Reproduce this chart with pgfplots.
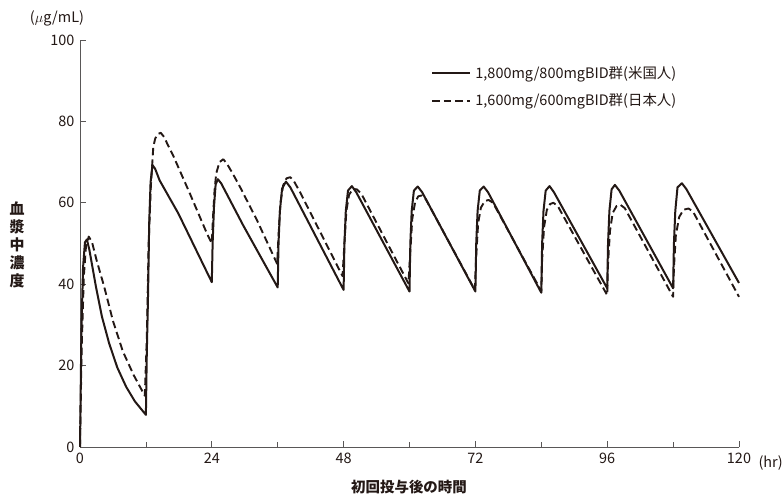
\documentclass[border=0pt]{standalone}
\usepackage{pgfplots}
\pgfplotsset{compat=1.18}
\usepackage{fontspec}
\setmainfont{Noto Sans CJK JP}
\definecolor{ink}{HTML}{231815}
\definecolor{axgray}{HTML}{595757}

\pgfplotstableread{
t c
0 0
0.25 28
0.55 44
0.9 50.3
1.25 51
1.7 48.5
2.9 39.4
4.0 32
5.3 25.5
6.8 19.5
8.4 14.8
10.0 11.2
12.0 7.9
12.15 22
12.4 38
12.6 55
12.85 65
13.2 69.3
13.7 68.3
14.5 65.5
17.9 57.4
24.0 40.5
24.15 50
24.4 59
24.7 64.5
25.1 65.8
25.7 64.8
29.7 54.5
36.0 39.2
36.15 50
36.4 58
36.8 63.5
37.5 65.2
38.3 63.8
48.0 38.6
48.15 50
48.4 58
48.8 63
49.5 64.1
50.3 62.6
60.0 38.2
60.15 50
60.4 58
60.8 63
61.5 64.0
62.3 62.6
72.0 38.2
72.15 50
72.4 58
72.8 63
73.5 64.0
74.3 62.6
84.0 37.9
84.15 50
84.4 58
84.8 63
85.5 64.1
86.3 62.6
96.0 39.0
96.15 50
96.4 58
96.8 63.3
97.4 64.4
98.2 63.0
108.0 39.0
108.15 50
108.4 58
108.8 63.8
109.6 64.8
110.4 63.4
120.0 40.3
}\us

\pgfplotstableread{
t c
0 0
0.3 24
0.7 42
1.1 49.5
1.6 51.7
2.2 50.3
3.0 46
4.4 39.4
6.0 31
7.8 23.5
9.8 17.6
11.8 12.6
12.15 26
12.5 50
12.9 64
13.35 73.8
13.7 75.8
14.2 76.9
14.7 77.2
15.3 76.2
16.0 74.2
17.0 71.5
20.0 62.3
23.1 52.5
24.0 50.0
24.2 56
24.5 63
24.8 67.2
25.4 70.0
26.1 70.7
26.8 69.5
27.8 67.2
29.1 64
32.2 55.8
35.9 45.0
36.15 52
36.5 60
37.0 64.3
37.6 66.0
38.3 66.3
39.0 65.2
40.0 62.8
47.8 42.0
48.15 50
48.5 58
49.0 62
49.7 63.4
50.4 63.3
51.2 62.3
59.8 40.2
60.15 48
60.5 56
61.0 60
61.6 61.6
62.2 61.8
63.0 60.8
71.9 38.6
72.15 47
72.5 55
73.0 58.8
73.7 60.4
74.4 60.7
75.2 60.0
84.0 38.3
84.15 46
84.5 54
85.0 58.2
85.6 59.7
86.2 60.0
87.0 59.2
96.0 37.3
96.15 45
96.5 53
97.0 57.5
97.7 59.2
98.4 59.5
99.2 58.7
108.0 36.9
108.15 44
108.5 52
109.1 56.5
109.9 58.3
110.8 58.6
111.6 57.9
120.0 36.9
}\jp

\begin{document}
\begin{tikzpicture}
\begin{axis}[
  scale only axis,
  width=659bp, height=407bp,
  xmin=0, xmax=120, ymin=0, ymax=100,
  axis lines=left,
  axis line style={axgray, line width=0.8bp, -},
  xtick={0,24,48,72,96,120},
  minor xtick={12,36,60,84,108},
  ytick={0,20,40,60,80,100},
  tick align=inside,
  major tick length=6bp,
  minor tick length=5bp,
  tick style={axgray, line width=0.8bp},
  every tick label/.append style={font=\fontsize{14.5}{15}\selectfont, text=ink},
  /pgf/number format/assume math mode=true,
  xticklabel style={yshift=-2bp},
  yticklabel style={xshift=-2bp},
  clip=false,
  legend style={at={(rel axis cs:0.533,0.94)}, anchor=north west, draw=none, fill=none,
    font=\fontsize{14.5}{16}\selectfont, text=ink, row sep=9.5bp, inner sep=0pt,
    nodes={inner xsep=4bp}},
  legend cell align=left,
  legend image code/.code={\draw[#1] (0bp,0bp) -- (38bp,0bp);},
]
\addplot[ink, line width=2bp, line join=round] table[x=t,y=c]{\us};
\addlegendentry{1,800mg/800mgBID群(米国人)}
\addplot[ink, line width=1.9bp, dash pattern=on 7.5bp off 4bp, line join=round] table[x=t,y=c]{\jp};
\addlegendentry{1,600mg/600mgBID群(日本人)}
\coordinate (O) at (rel axis cs:0,0);
\end{axis}
\node[anchor=west, font=\fontsize{14.5}{15}\selectfont, text=ink] at ([shift={(675bp,-16bp)}]O) {(hr)};
\node[anchor=center, font=\fontsize{14.5}{15}\selectfont, text=ink] at ([shift={(-23bp,429bp)}]O) {($\mu$g/mL)};
\node[anchor=center, font=\fontsize{15}{18}\selectfont\bfseries, text=ink, align=center] at ([shift={(-63bp,202bp)}]O) {血\\漿\\中\\濃\\度};
\node[anchor=center, font=\fontsize{14.5}{15}\selectfont\bfseries, text=ink] at ([shift={(329bp,-40bp)}]O) {初回投与後の時間};
\pgfresetboundingbox
\path[use as bounding box] ([shift={(-80bp,-49bp)}]O) rectangle ([shift={(703bp,447bp)}]O);
\end{tikzpicture}
\end{document}
